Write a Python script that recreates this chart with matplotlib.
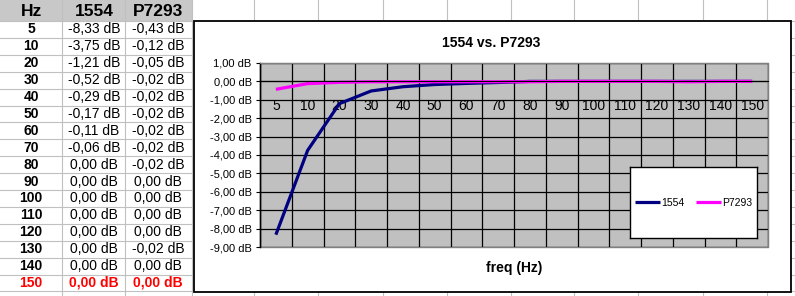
import matplotlib
matplotlib.use("Agg")
import matplotlib.pyplot as plt
from matplotlib.patches import Rectangle

plt.rcParams['font.family'] = ['Liberation Sans', 'DejaVu Sans']

# data from the sheet
hz = [5, 10, 20, 30, 40, 50, 60, 70, 80, 90, 100, 110, 120, 130, 140, 150]
db_1554 = [-8.33, -3.75, -1.21, -0.52, -0.29, -0.17, -0.11, -0.06,
           0.0, 0.0, 0.0, 0.0, 0.0, 0.0, 0.0, 0.0]
db_p7293 = [-0.43, -0.12, -0.05, -0.02, -0.02, -0.02, -0.02, -0.02,
            -0.02, 0.0, 0.0, 0.0, 0.0, -0.02, 0.0, 0.0]
col_names = ['Hz', '1554', 'P7293']
y_ticks = [1, 0, -1, -2, -3, -4, -5, -6, -7, -8, -9]


def fmt(v):
    return f"{v:.2f} dB".replace('.', ',')


W, H = 795, 296
fig = plt.figure(figsize=(W / 100, H / 100), dpi=100)

# ---- spreadsheet background (pixel coords) ----
bg = fig.add_axes([0, 0, 1, 1])
bg.set_xlim(0, W)
bg.set_ylim(H, 0)
bg.axis('off')

row_h = 16.9
top = 21
grid_c = '#c0c0c0'
bg.add_patch(Rectangle((0, 0), 192, top, facecolor='#c8c8c8', edgecolor='none'))
for x in [62, 125, 192, 254, 318, 383, 447, 511, 574, 638, 703, 767]:
    bg.plot([x, x], [0, H], color=grid_c, lw=0.8)
for k in range(17):
    y = top + k * row_h
    bg.plot([0, W], [y, y], color=grid_c, lw=0.8)

col_x = [31, 94, 158]
for cx, name in zip(col_x, col_names):
    bg.text(cx, top / 2 + 1, name, ha='center', va='center', fontsize=12.5, fontweight='bold')
for i, f in enumerate(hz):
    yc = top + (i + 0.5) * row_h
    last = i == len(hz) - 1
    color = 'red' if last else 'black'
    w = 'bold' if last else 'normal'
    bg.text(col_x[0], yc, str(f), ha='center', va='center', fontsize=10,
            fontweight='bold', color=color)
    bg.text(col_x[1], yc, fmt(db_1554[i]), ha='center', va='center', fontsize=10,
            fontweight=w, color=color)
    bg.text(col_x[2], yc, fmt(db_p7293[i]), ha='center', va='center', fontsize=10,
            fontweight=w, color=color)

# chart object frame
bg.add_patch(Rectangle((194, 21), 597, 271, facecolor='white', edgecolor='black', lw=1.3, zorder=5))

# ---- chart ----
ax = fig.add_axes([260 / W, (H - 247) / H, 508 / W, 184 / H])
ax.set_facecolor('#c0c0c0')
x = list(range(len(hz)))
ax.plot(x, db_1554, color='#000080', lw=2.3, label='1554', solid_capstyle='butt')
ax.plot(x, db_p7293, color='#ff00ff', lw=2.3, label='P7293', solid_capstyle='butt')
ax.set_xlim(-0.5, len(hz) - 0.5)
ax.set_ylim(-9, 1)

ax.set_yticks(y_ticks)
ax.set_yticklabels([fmt(v) for v in y_ticks], fontsize=8)
ax.set_xticks(x)
ax.set_xticklabels([str(f) for f in hz], fontsize=10, fontweight='bold')
ax.set_xticks([i - 0.5 for i in range(len(hz) + 1)], minor=True)
ax.tick_params(axis='x', which='both', length=0, pad=13)
ax.tick_params(axis='y', length=3, width=0.8, pad=3)
ax.grid(True, axis='y', which='major', color='black', lw=0.9)
ax.grid(True, axis='x', which='minor', color='black', lw=0.9)
ax.set_axisbelow(True)

ax.spines['bottom'].set_position(('data', 0))
ax.spines['bottom'].set_color('black')
ax.spines['left'].set_color('black')
for s in ['top', 'right']:
    ax.spines[s].set_color('#808080')
ax.add_patch(Rectangle((0, 0), 1, 1, transform=ax.transAxes, fill=False,
                       edgecolor='#808080', lw=1, clip_on=False, zorder=0.5))
ax.plot([0, 0], [0, 1], transform=ax.transAxes, color='black', lw=1, clip_on=False)

fig.text(491 / W, 1 - 43 / H, '1554 vs. P7293', ha='center', va='center',
         fontsize=10, fontweight='bold')
fig.text(514 / W, 1 - 268 / H, 'freq (Hz)', ha='center', va='center',
         fontsize=10, fontweight='bold')

# legend box
lax = fig.add_axes([630 / W, (H - 238) / H, 127 / W, 71 / H])
lax.set_xticks([])
lax.set_yticks([])
for s in lax.spines.values():
    s.set_color('black')
    s.set_linewidth(1)
handles, labels = ax.get_legend_handles_labels()
lax.legend(handles, labels, loc='center', ncol=2, frameon=False, fontsize=7.5,
           handlelength=2.4, handletextpad=0.1, columnspacing=1.1, borderpad=0)

fig.savefig('out.png', dpi=100)
